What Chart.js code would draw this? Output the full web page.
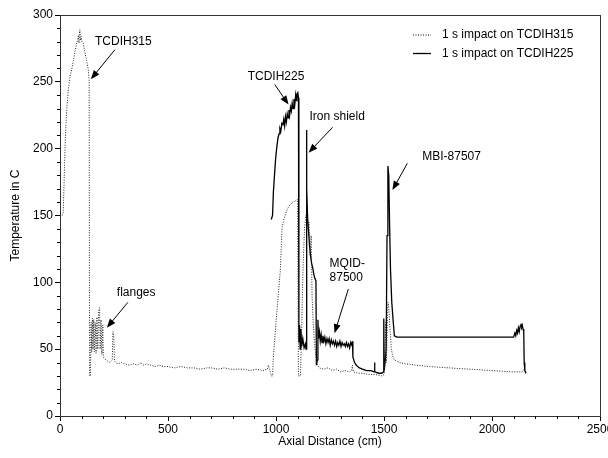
<!DOCTYPE html>
<html>
<head>
<meta charset="utf-8">
<script src="https://cdn.jsdelivr.net/npm/chart.js@4.4.0/dist/chart.umd.min.js"></script>
<style>
  html, body { margin: 0; padding: 0; background: #fff; }
</style>
</head>
<body>
<canvas id="chart" width="608" height="458"></canvas>
<script>
// axial distance (cm), temperature (C)
var tcdih315 = [
  [10,150],[15,152],[19,175],[23,199],[27,216],[31,229],[38,243],[46,254],[54,259],[62,266],
  [69,272],[77,279],[82,281],[85,285],[88,279],[90,286],[92,289],[95,281],[98,284],[102,280],
  [108,279],[115,272],[123,266],[131,259],[135,251],[137,30],[141,30],[144,70],[147,48],[150,73],
  [153,50],[156,72],[159,48],[163,70],[167,47],[171,74],[175,50],[179,78],[183,81],[186,50],
  [190,72],[194,46],[198,68],[201,44],[206,43],[212,42],[220,41],[228,40],[236,41],[242,42],
  [245,63],[249,60],[252,41],[258,40],[270,39],[285,40],[300,39],[320,38],[340,39],[360,38],
  [375,40],[385,38],[400,39],[420,38],[440,37],[460,38],[480,37],[500,37],[530,36],[560,37],
  [590,36],[620,36],[650,35],[680,36],[700,36],[730,35],[760,36],[790,35],[820,35],[850,35],
  [880,34],[910,35],[940,34],[960,35],[965,38],[970,35],[978,30],[984,30],[988,45],[993,55],
  [1000,70],[1009,88],[1020,109],[1028,141],[1038,148],[1048,153],[1060,157],[1077,160],[1090,161],[1100,162],
  [1104,30],[1113,30],[1118,60],[1125,110],[1132,140],[1138,150],[1143,148],[1148,140],[1153,145],[1158,120],
  [1163,135],[1167,90],[1172,70],[1178,55],[1184,45],[1192,38],[1200,36],[1220,35],[1240,36],[1260,34],
  [1280,35],[1300,33],[1320,34],[1340,33],[1350,34],[1354,38],[1358,33],[1380,32],[1400,32],[1430,31],
  [1460,31],[1490,30],[1500,31],[1505,45],[1508,70],[1511,40],[1514,60],[1518,85],[1522,82],[1526,70],
  [1530,60],[1534,50],[1540,45],[1548,42],[1560,41],[1571,40],[1600,39],[1650,38],[1710,37],[1800,36],
  [1900,35],[2000,34],[2093,33],[2140,33],[2149,35],[2155,32],[2163,31]
];

var tcdih225 = [
  [978,147],[984,150],[988,168],[993,180],[998,192],[1003,200],[1009,208],[1014,211],[1018,215],[1022,213],
  [1027,219],[1032,218],[1036,222],[1040,217],[1044,224],[1048,220],[1052,226],[1056,223],[1060,229],[1063,225],
  [1067,231],[1071,228],[1075,234],[1079,230],[1083,237],[1087,233],[1091,240],[1094,236],[1097,241],[1101,242],
  [1104,238],[1106,55],[1109,68],[1112,50],[1115,65],[1119,52],[1124,58],[1130,51],[1136,54],[1139,50],
  [1141,214],[1143,170],[1146,150],[1150,140],[1155,128],[1160,120],[1165,114],[1170,111],[1175,106],[1180,103],
  [1185,101],[1187,38],[1191,42],[1194,72],[1197,58],[1201,63],[1205,56],[1209,61],[1213,55],[1217,60],
  [1222,56],[1226,59],[1231,54],[1236,58],[1241,55],[1246,58],[1251,53],[1256,57],[1261,54],[1266,56],
  [1271,53],[1276,56],[1281,52],[1286,55],[1291,53],[1296,56],[1301,52],[1306,55],[1311,53],[1316,54],
  [1321,52],[1326,55],[1331,52],[1336,54],[1341,51],[1346,55],[1351,53],[1354,56],[1356,44],[1364,40],
  [1372,38],[1386,36],[1400,35],[1420,34],[1440,34],[1454,33],[1456,40],[1458,33],[1475,32],[1490,32],
  [1497,33],[1499,73],[1501,34],[1506,42],[1510,50],[1514,135],[1518,187],[1522,180],[1526,142],[1530,110],
  [1536,85],[1543,70],[1548,60],[1560,59],[1800,59],[2000,59],[2100,59],[2106,62],[2110,60],[2114,64],
  [2118,62],[2122,66],[2126,63],[2130,67],[2134,69],[2137,66],[2140,68],[2144,65],[2147,63],[2149,40],
  [2152,34],[2158,32]
];

var seriesLabels = ["1 s impact on TCDIH315", "1 s impact on TCDIH225"];
var xTicks = [0, 500, 1000, 1500, 2000, 2500];
var yTicks = [0, 50, 100, 150, 200, 250, 300];

// callouts: label lines, label anchor, arrow tail and tip (data units)
var callouts = [
  { text: ["TCDIH315"], at: [162, 280], from: [254, 274], to: [143, 252] },
  { text: ["flanges"], at: [263, 92], from: [314, 85], to: [217, 66] },
  { text: ["TCDIH225"], at: [869, 254], from: [994, 248], to: [1058, 233] },
  { text: ["Iron shield"], at: [1155, 224], from: [1262, 216], to: [1151, 197] },
  { text: ["MQID-", "87500"], at: [1248, 114], from: [1335, 95], to: [1271, 62] },
  { text: ["MBI-87507"], at: [1677, 194], from: [1608, 189], to: [1539, 169] }
];

var FAMILY = "'Liberation Sans', Arial, sans-serif";
var FONT = "12px " + FAMILY;

function toPoints(arr) {
  return arr.map(function (p) { return { x: p[0], y: p[1] }; });
}

function drawArrow(ctx, x1, y1, x2, y2) {
  var a = Math.atan2(y2 - y1, x2 - x1);
  var L = 9, W = 3.5;
  ctx.beginPath();
  ctx.moveTo(x1, y1);
  ctx.lineTo(x2 - L * 0.7 * Math.cos(a), y2 - L * 0.7 * Math.sin(a));
  ctx.stroke();
  ctx.beginPath();
  ctx.moveTo(x2, y2);
  ctx.lineTo(x2 - L * Math.cos(a) + W * Math.sin(a), y2 - L * Math.sin(a) - W * Math.cos(a));
  ctx.lineTo(x2 - L * Math.cos(a) - W * Math.sin(a), y2 - L * Math.sin(a) + W * Math.cos(a));
  ctx.closePath();
  ctx.fill();
}

var decorations = {
  id: "decorations",
  afterDraw: function (chart) {
    var ctx = chart.ctx;
    var area = chart.chartArea;
    var xs = chart.scales.x, ys = chart.scales.y;
    ctx.save();

    // frame
    ctx.strokeStyle = "#333";
    ctx.lineWidth = 1;
    ctx.strokeRect(area.left + 0.5, area.top + 0.5, area.right - area.left, area.bottom - area.top);

    // minor ticks
    ctx.strokeStyle = "#000";
    ctx.beginPath();
    for (var v = 100; v < 2500; v += 100) {
      if (v % 500 === 0) continue;
      var px = Math.round(xs.getPixelForValue(v)) + 0.5;
      ctx.moveTo(px, area.bottom);
      ctx.lineTo(px, area.bottom + 3);
    }
    for (var t = 10; t < 300; t += 10) {
      if (t % 50 === 0) continue;
      var py = Math.round(ys.getPixelForValue(t)) + 0.5;
      ctx.moveTo(area.left, py);
      ctx.lineTo(area.left - 3, py);
    }
    ctx.stroke();

    // axis titles
    ctx.fillStyle = "#000";
    ctx.font = FONT;
    ctx.textAlign = "center";
    ctx.textBaseline = "middle";
    ctx.fillText("Axial Distance (cm)", (area.left + area.right) / 2, 442);
    ctx.save();
    ctx.translate(16, (area.top + area.bottom) / 2);
    ctx.rotate(-Math.PI / 2);
    ctx.fillText("Temperature in C", 0, 0);
    ctx.restore();

    // legend
    ctx.textAlign = "left";
    chart.data.datasets.forEach(function (ds, i) {
      var ly = 35 + i * 18.5;
      ctx.strokeStyle = "#000";
      ctx.lineWidth = ds.borderWidth;
      ctx.setLineDash(ds.borderDash || []);
      ctx.beginPath();
      ctx.moveTo(413, ly);
      ctx.lineTo(431, ly);
      ctx.stroke();
      ctx.setLineDash([]);
      ctx.fillText(ds.label, 442, ly);
    });

    // callouts
    ctx.lineWidth = 1;
    ctx.strokeStyle = "#000";
    callouts.forEach(function (c) {
      var tx = xs.getPixelForValue(c.at[0]);
      var ty = ys.getPixelForValue(c.at[1]);
      c.text.forEach(function (line, k) {
        ctx.fillText(line, tx, ty + k * 14);
      });
      drawArrow(ctx,
        xs.getPixelForValue(c.from[0]), ys.getPixelForValue(c.from[1]),
        xs.getPixelForValue(c.to[0]), ys.getPixelForValue(c.to[1]));
    });

    ctx.restore();
  }
};

new Chart(document.getElementById("chart"), {
  type: "scatter",
  data: {
    datasets: [
      {
        label: seriesLabels[0],
        data: toPoints(tcdih315),
        showLine: true,
        borderColor: "#222",
        borderWidth: 1,
        borderDash: [1, 1.5],
        pointRadius: 0,
        tension: 0
      },
      {
        label: seriesLabels[1],
        data: toPoints(tcdih225),
        showLine: true,
        borderColor: "#000",
        borderWidth: 1.3,
        pointRadius: 0,
        tension: 0
      }
    ]
  },
  options: {
    responsive: false,
    animation: false,
    events: [],
    devicePixelRatio: 1,
    layout: { padding: { top: 15, right: 8, left: 0, bottom: 0 } },
    plugins: {
      legend: { display: false },
      tooltip: { enabled: false }
    },
    scales: {
      x: {
        type: "linear",
        min: 0,
        max: 2500,
        afterBuildTicks: function (s) { s.ticks = xTicks.map(function (v) { return { value: v }; }); },
        afterFit: function (s) { s.height = 42; s.paddingLeft = 0; s.paddingRight = 0; },
        ticks: {
          color: "#000", font: { family: FAMILY, size: 12 }, padding: 1, maxRotation: 0, autoSkip: false,
          callback: function (v) { return String(v); }
        },
        grid: { drawOnChartArea: false, tickLength: 5, color: "#000" },
        border: { color: "#000" }
      },
      y: {
        min: 0,
        max: 300,
        afterBuildTicks: function (s) { s.ticks = yTicks.map(function (v) { return { value: v }; }); },
        afterFit: function (s) { s.width = 60; },
        ticks: {
          color: "#000", font: { family: FAMILY, size: 12 }, padding: 2, autoSkip: false,
          callback: function (v) { return String(v); }
        },
        grid: { drawOnChartArea: false, tickLength: 5, color: "#000" },
        border: { color: "#000" }
      }
    }
  },
  plugins: [decorations]
});
</script>
</body>
</html>
